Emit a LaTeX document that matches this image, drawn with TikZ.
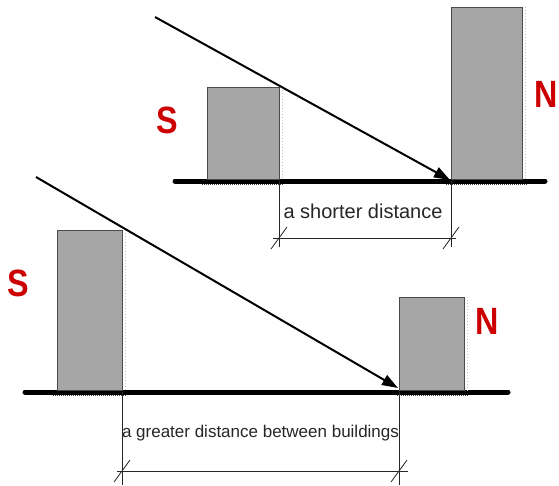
\documentclass[tikz,border=0pt]{standalone}
\usepackage{fontspec}
\setmainfont{Liberation Sans}
\newfontfamily\labfont[FakeStretch=0.85]{Liberation Sans}
\usetikzlibrary{arrows.meta}
\definecolor{bldgrey}{HTML}{A6A6A6}
\definecolor{bldedge}{HTML}{4A4A4A}
\definecolor{dirred}{HTML}{CC0000}
\tikzset{
  building/.style={fill=bldgrey, draw=bldedge, line width=1pt},
  ground/.style={line width=5pt, line cap=round, black},
  base/.style={line width=2.5pt, draw=black!75, dash pattern=on 1.2pt off 0.8pt},
  shade/.style={line width=0.6pt, draw=black!25, dash pattern=on 1pt off 2pt},
  sunray/.style={line width=2pt, -{Triangle[length=16pt,width=11pt]}},
  dimline/.style={line width=0.8pt, black!85},
  tick/.style={line width=0.8pt, black!85},
  dir/.style={text=dirred, font=\labfont\bfseries\fontsize{38}{38}\selectfont, inner sep=0pt},
  dimtext/.style={text=black!85, inner sep=0pt}
}
\begin{document}
\begin{tikzpicture}[x=1pt,y=-1pt]
\useasboundingbox (0,0) rectangle (559,485);
% ---------- top scene ----------
\coordinate (g1a) at (175,181);
\coordinate (g1b) at (545,181);
\draw[base] (202,184) -- (283,184);
\draw[base] (446,184) -- (527,184);
\draw[ground] (g1a) -- (g1b);
\node[building, minimum width=72pt, minimum height=92pt, inner sep=0pt, anchor=south west] (b1s) at (207,180) {};
\node[building, minimum width=71pt, minimum height=172pt, inner sep=0pt, anchor=south west] (b1n) at (451,180) {};
\draw[shade] ([xshift=2pt]b1s.north east) -- ([xshift=2pt]b1s.south east);
\draw[shade] ([xshift=2pt]b1n.north east) -- ([xshift=2pt]b1n.south east);
\coordinate (r1a) at (155,17);
\coordinate (r1b) at (450,180);
\draw[sunray] (r1a) -- (r1b);
\node[dir] (s1) at (167,120) {S};
\node[dir] (n1) at (546.5,94) {N};
% dimension top
\coordinate (e1a) at (279,181);
\coordinate (e1b) at (451,181);
\coordinate (e1ae) at (279,247);
\coordinate (e1be) at (451,247);
\draw[dimline] (e1a) -- (e1ae);
\draw[dimline] (e1b) -- (e1be);
\coordinate (d1a) at (273,238);
\coordinate (d1b) at (456,238);
\draw[dimline] (d1a) -- (d1b);
\draw[tick] (271,249) -- (287,227);
\draw[tick] (443,249) -- (459,227);
\node[dimtext, font=\fontsize{20}{20}\selectfont] (t1) at (363,211) {a shorter distance};
% ---------- bottom scene ----------
\coordinate (g2a) at (25,392);
\coordinate (g2b) at (508,392);
\draw[base] (53,395) -- (126,395);
\draw[base] (397,395) -- (468,395);
\draw[ground] (g2a) -- (g2b);
\node[building, minimum width=65pt, minimum height=160pt, inner sep=0pt, anchor=south west] (b2s) at (57,391) {};
\node[building, minimum width=65pt, minimum height=93pt, inner sep=0pt, anchor=south west] (b2n) at (399,391) {};
\draw[shade] ([xshift=2pt]b2s.north east) -- ([xshift=2pt]b2s.south east);
\draw[shade] ([xshift=2pt]b2n.north east) -- ([xshift=2pt]b2n.south east);
\coordinate (r2a) at (36,177);
\coordinate (r2b) at (398,388);
\draw[sunray] (r2a) -- (r2b);
\node[dir] (s2) at (18.5,283.5) {S};
\node[dir] (n2) at (487,321) {N};
% dimension bottom
\coordinate (e2a) at (122,392);
\coordinate (e2b) at (399,392);
\coordinate (e2ae) at (122,485);
\coordinate (e2be) at (399,485);
\draw[dimline] (e2a) -- (e2ae);
\draw[dimline] (e2b) -- (e2be);
\coordinate (d2a) at (117,471);
\coordinate (d2b) at (408,471);
\draw[dimline] (d2a) -- (d2b);
\draw[tick] (114,482) -- (130,460);
\draw[tick] (391,482) -- (407,460);
\node[dimtext, font=\fontsize{17}{17}\selectfont] (t2) at (260.5,433) {a greater distance between buildings};
\end{tikzpicture}
\end{document}
